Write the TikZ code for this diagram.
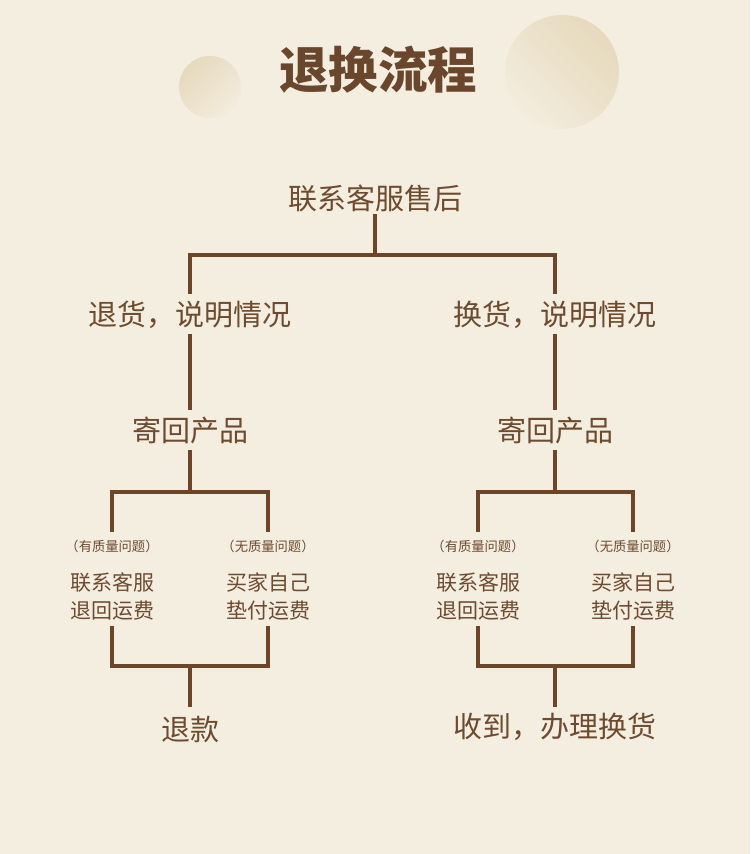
\documentclass[tikz,border=0pt]{standalone}
\usepackage{fontspec}
\newfontfamily\cjk{Noto Sans CJK SC}
\definecolor{bg}{HTML}{F4EEE1}
\definecolor{brn}{HTML}{6E4526}
\definecolor{txt}{HTML}{6E4A2E}
\definecolor{cdark}{HTML}{E6D9BC}
\definecolor{clight}{HTML}{F3ECDD}
\tikzset{
  conn/.style={draw=brn,line width=4pt},
  bigtxt/.style={font=\cjk\fontsize{29}{29}\selectfont,text=txt,inner sep=0pt,
    text height=25.5pt,text depth=3.5pt,minimum height=40pt},
  qtxt/.style={font=\cjk\fontsize{13.3}{13.3}\selectfont,text=txt,inner sep=0pt,
    text height=11.7pt,text depth=1.6pt,minimum height=28pt},
  midtxt/.style={font=\cjk\fontsize{21}{28}\selectfont,text=txt,inner sep=0pt,
    align=center,minimum height=60pt},
}
\begin{document}
\begin{tikzpicture}[x=1pt,y=-1pt]
\fill[bg] (0,0) rectangle (750,854);
\useasboundingbox (0,0) rectangle (750,854);
% decorative circles
\shade[top color=cdark,bottom color=clight,shading angle=45] (210,87) circle (31);
\shade[top color=cdark,bottom color=clight!80!bg,shading angle=-45] (562,72) circle (57);
% title
\node[font=\cjk\bfseries\fontsize{49.5}{49.5}\selectfont,text=txt!95!black] (title) at (378,70) {退换流程};
% top
\node[bigtxt,minimum height=32pt] (top) at (375,198) {联系客服售后};
\coordinate (j0) at (375,255);
% level 2
\node[bigtxt] (l2) at (190,314) {退货，说明情况};
\node[bigtxt] (r2) at (555,314) {换货，说明情况};
% level 3
\node[bigtxt] (l3) at (190,430) {寄回产品};
\node[bigtxt] (r3) at (555,430) {寄回产品};
\coordinate (jl) at (190,492);
\coordinate (jr) at (555,492);
% question labels
\node[qtxt] (lq1) at (112,546) {（有质量问题）};
\node[qtxt] (lq2) at (268,546) {（无质量问题）};
\node[qtxt] (rq1) at (478,546) {（有质量问题）};
\node[qtxt] (rq2) at (633,546) {（无质量问题）};
% text blocks
\node[midtxt] (lb1) at (112,596) {联系客服\\退回运费};
\node[midtxt] (lb2) at (268,596) {买家自己\\垫付运费};
\node[midtxt] (rb1) at (478,596) {联系客服\\退回运费};
\node[midtxt] (rb2) at (633,596) {买家自己\\垫付运费};
\coordinate (kl) at (190,666);
\coordinate (kr) at (555,666);
% results
\node[bigtxt,minimum height=44pt] (lres) at (190,729) {退款};
\node[bigtxt,minimum height=38pt] (rres) at (555,726) {收到，办理换货};
% connectors
\draw[conn] (top.south) -- (j0);
\draw[conn] (l2.north) |- (j0) -| (r2.north);
\draw[conn] (l2.south) -- (l3.north);
\draw[conn] (r2.south) -- (r3.north);
\draw[conn] (l3.south) -- (jl);
\draw[conn] (r3.south) -- (jr);
\draw[conn] (lq1.north) |- (jl) -| (lq2.north);
\draw[conn] (rq1.north) |- (jr) -| (rq2.north);
\draw[conn] (lb1.south) |- (kl) -| (lb2.south);
\draw[conn] (rb1.south) |- (kr) -| (rb2.south);
\draw[conn] (kl) -- (lres.north);
\draw[conn] (kr) -- (rres.north);
\end{tikzpicture}
\end{document}
